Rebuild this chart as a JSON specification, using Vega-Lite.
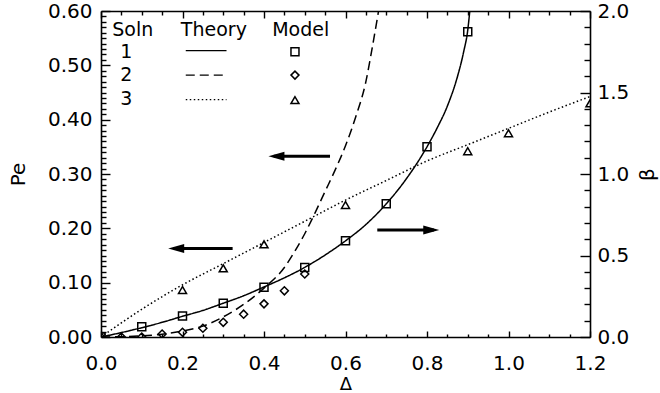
{
  "$schema": "https://vega.github.io/schema/vega-lite/v6.json",
  "width": 489,
  "height": 326,
  "autosize": {"type": "none"},
  "padding": {"left": 101, "top": 11, "right": 70, "bottom": 56},
  "background": "white",
  "config": {
    "view": {"stroke": null},
    "font": "DejaVu Sans",
    "text": {"font": "DejaVu Sans"},
    "axis": {
      "domainColor": "black", "domainWidth": 1.6,
      "tickColor": "black", "tickWidth": 1.4,
      "labelColor": "black", "titleColor": "black",
      "labelFont": "DejaVu Sans", "titleFont": "DejaVu Sans",
      "labelFontSize": 20, "titleFontSize": 20, "titleFontWeight": "normal",
      "grid": false, "labelOverlap": false, "labelFlush": false, "labelBound": false
    }
  },
  "datasets": {
    "theory": [
      {"soln": "1", "d": 0, "beta": 0}, {"soln": "1", "d": 0.05, "beta": 0.027}, {"soln": "1", "d": 0.1, "beta": 0.057},
      {"soln": "1", "d": 0.15, "beta": 0.09}, {"soln": "1", "d": 0.2, "beta": 0.127}, {"soln": "1", "d": 0.25, "beta": 0.163},
      {"soln": "1", "d": 0.3, "beta": 0.207}, {"soln": "1", "d": 0.35, "beta": 0.253}, {"soln": "1", "d": 0.4, "beta": 0.307},
      {"soln": "1", "d": 0.45, "beta": 0.363}, {"soln": "1", "d": 0.5, "beta": 0.427}, {"soln": "1", "d": 0.55, "beta": 0.503},
      {"soln": "1", "d": 0.6, "beta": 0.59}, {"soln": "1", "d": 0.65, "beta": 0.69}, {"soln": "1", "d": 0.7, "beta": 0.817},
      {"soln": "1", "d": 0.75, "beta": 0.973}, {"soln": "1", "d": 0.8, "beta": 1.167}, {"soln": "1", "d": 0.825, "beta": 1.283},
      {"soln": "1", "d": 0.85, "beta": 1.417}, {"soln": "1", "d": 0.875, "beta": 1.6}, {"soln": "1", "d": 0.89, "beta": 1.75},
      {"soln": "1", "d": 0.9, "beta": 1.883}, {"soln": "1", "d": 0.905, "beta": 2.0}, {"soln": "1", "d": 0.912, "beta": 2.2},
      {"soln": "2", "d": 0, "pe": 0}, {"soln": "2", "d": 0.05, "pe": 0.0005}, {"soln": "2", "d": 0.1, "pe": 0.002},
      {"soln": "2", "d": 0.15, "pe": 0.005}, {"soln": "2", "d": 0.2, "pe": 0.011}, {"soln": "2", "d": 0.25, "pe": 0.02},
      {"soln": "2", "d": 0.3, "pe": 0.037}, {"soln": "2", "d": 0.35, "pe": 0.06}, {"soln": "2", "d": 0.4, "pe": 0.09},
      {"soln": "2", "d": 0.45, "pe": 0.128}, {"soln": "2", "d": 0.475, "pe": 0.157}, {"soln": "2", "d": 0.5, "pe": 0.19},
      {"soln": "2", "d": 0.525, "pe": 0.228}, {"soln": "2", "d": 0.55, "pe": 0.268}, {"soln": "2", "d": 0.575, "pe": 0.308},
      {"soln": "2", "d": 0.6, "pe": 0.352}, {"soln": "2", "d": 0.625, "pe": 0.405}, {"soln": "2", "d": 0.65, "pe": 0.47},
      {"soln": "2", "d": 0.665, "pe": 0.53}, {"soln": "2", "d": 0.68, "pe": 0.595}, {"soln": "2", "d": 0.69, "pe": 0.64},
      {"soln": "3", "d": 0, "pe": 0}, {"soln": "3", "d": 0.1, "pe": 0.051}, {"soln": "3", "d": 0.2, "pe": 0.096},
      {"soln": "3", "d": 0.3, "pe": 0.135}, {"soln": "3", "d": 0.4, "pe": 0.174}, {"soln": "3", "d": 0.5, "pe": 0.213},
      {"soln": "3", "d": 0.6, "pe": 0.252}, {"soln": "3", "d": 0.7, "pe": 0.288}, {"soln": "3", "d": 0.8, "pe": 0.324},
      {"soln": "3", "d": 0.9, "pe": 0.354}, {"soln": "3", "d": 1.0, "pe": 0.384}, {"soln": "3", "d": 1.1, "pe": 0.414},
      {"soln": "3", "d": 1.2, "pe": 0.4425}
    ],
    "model": [
      {"soln": "1", "d": 0, "beta": 0}, {"soln": "1", "d": 0.1, "beta": 0.063}, {"soln": "1", "d": 0.2, "beta": 0.129},
      {"soln": "1", "d": 0.3, "beta": 0.207}, {"soln": "1", "d": 0.4, "beta": 0.305}, {"soln": "1", "d": 0.5, "beta": 0.427},
      {"soln": "1", "d": 0.6, "beta": 0.59}, {"soln": "1", "d": 0.7, "beta": 0.817}, {"soln": "1", "d": 0.8, "beta": 1.167},
      {"soln": "1", "d": 0.9, "beta": 1.873},
      {"soln": "2", "d": 0, "pe": 0}, {"soln": "2", "d": 0.05, "pe": 0}, {"soln": "2", "d": 0.1, "pe": 0},
      {"soln": "2", "d": 0.15, "pe": 0.0055}, {"soln": "2", "d": 0.2, "pe": 0.0087}, {"soln": "2", "d": 0.25, "pe": 0.016},
      {"soln": "2", "d": 0.3, "pe": 0.027}, {"soln": "2", "d": 0.35, "pe": 0.042}, {"soln": "2", "d": 0.4, "pe": 0.061},
      {"soln": "2", "d": 0.45, "pe": 0.085}, {"soln": "2", "d": 0.5, "pe": 0.116},
      {"soln": "3", "d": 0.2, "pe": 0.0865}, {"soln": "3", "d": 0.3, "pe": 0.1264}, {"soln": "3", "d": 0.4, "pe": 0.1706},
      {"soln": "3", "d": 0.6, "pe": 0.243}, {"soln": "3", "d": 0.9, "pe": 0.342}, {"soln": "3", "d": 1.0, "pe": 0.375},
      {"soln": "3", "d": 1.2, "pe": 0.43}
    ],
    "arrows": [
      {"arrow": "A", "part": "tail", "dir": "left", "d": 0.562, "pe": 0.3326},
      {"arrow": "A", "part": "head", "dir": "left", "d": 0.424, "pe": 0.3326},
      {"arrow": "B", "part": "tail", "dir": "left", "d": 0.323, "pe": 0.163},
      {"arrow": "B", "part": "head", "dir": "left", "d": 0.178, "pe": 0.163},
      {"arrow": "C", "part": "tail", "dir": "right", "d": 0.678, "pe": 0.197},
      {"arrow": "C", "part": "head", "dir": "right", "d": 0.817, "pe": 0.197}
    ],
    "keyText": [
      {"label": "Soln", "d": 0.078, "pe": 0.565},
      {"label": "Theory", "d": 0.277, "pe": 0.565},
      {"label": "Model", "d": 0.49, "pe": 0.565},
      {"label": "1", "d": 0.062, "pe": 0.524},
      {"label": "2", "d": 0.062, "pe": 0.482},
      {"label": "3", "d": 0.062, "pe": 0.438}
    ],
    "keyLines": [
      {"soln": "1", "d": 0.208, "d2": 0.308, "pe": 0.527},
      {"soln": "2", "d": 0.208, "d2": 0.308, "pe": 0.482},
      {"soln": "3", "d": 0.208, "d2": 0.308, "pe": 0.437}
    ],
    "keyMarks": [
      {"soln": "1", "d": 0.476, "pe": 0.525},
      {"soln": "2", "d": 0.476, "pe": 0.482},
      {"soln": "3", "d": 0.476, "pe": 0.436}
    ]
  },
  "layer": [
    {
      "encoding": {
        "x": {
          "field": "d", "type": "quantitative",
          "scale": {"domain": [0, 1.2], "nice": false, "zero": false},
          "axis": {
            "orient": "bottom", "title": "Δ",
            "values": [0,0.05,0.1,0.15,0.2,0.25,0.3,0.35,0.4,0.45,0.5,0.55,0.6,0.65,0.7,0.75,0.8,0.85,0.9,0.95,1,1.05,1.1,1.15,1.2],
            "labelExpr": "abs(datum.value*5-round(datum.value*5))<1e-6 ? format(datum.value,'.1f') : ''",
            "tickSize": {"condition": {"test": "abs(datum.value*5-round(datum.value*5))<1e-6", "value": -6}, "value": -3},
            "labelPadding": 22,
            "titleFontSize": 18,
            "titlePadding": -1
          }
        },
        "y": {
          "field": "pe", "type": "quantitative",
          "scale": {"domain": [0, 0.6], "nice": false, "zero": false},
          "axis": {
            "orient": "left", "title": "Pe",
            "values": [0,0.01,0.02,0.03,0.04,0.05,0.06,0.07,0.08,0.09,0.1,0.11,0.12,0.13,0.14,0.15,0.16,0.17,0.18,0.19,0.2,0.21,0.22,0.23,0.24,0.25,0.26,0.27,0.28,0.29,0.3,0.31,0.32,0.33,0.34,0.35,0.36,0.37,0.38,0.39,0.4,0.41,0.42,0.43,0.44,0.45,0.46,0.47,0.48,0.49,0.5,0.51,0.52,0.53,0.54,0.55,0.56,0.57,0.58,0.59,0.6],
            "labelExpr": "abs(datum.value*10-round(datum.value*10))<1e-6 ? format(datum.value,'.2f') : ''",
            "tickSize": {"condition": {"test": "abs(datum.value*10-round(datum.value*10))<1e-6", "value": -9}, "value": -5},
            "labelPadding": 18,
            "titlePadding": 19
          }
        }
      },
      "layer": [
        {
          "data": {"name": "theory"},
          "transform": [{"filter": "datum.soln != '1'"}],
          "mark": {"type": "line", "color": "black", "strokeWidth": 1.5, "interpolate": "monotone", "clip": true},
          "encoding": {
            "strokeDash": {"field": "soln", "type": "nominal", "scale": {"domain": ["1", "2", "3"], "range": [[1, 0], [9, 5], [1.5, 2.5]]}, "legend": null}
          }
        },
        {
          "data": {"name": "model"},
          "transform": [{"filter": "datum.soln != '1'"}],
          "mark": {"type": "point", "filled": false, "color": "black", "strokeWidth": 1.5, "size": 64, "clip": true, "opacity": 1},
          "encoding": {
            "shape": {"field": "soln", "type": "nominal", "scale": {"domain": ["1", "2", "3"], "range": ["square", "diamond", "triangle-up"]}, "legend": null}
          }
        },
        {
          "data": {"name": "arrows"},
          "mark": {"type": "line", "color": "black", "strokeWidth": 3},
          "encoding": {"detail": {"field": "arrow"}}
        },
        {
          "data": {"name": "arrows"},
          "transform": [{"filter": "datum.part == 'head' && datum.dir == 'left'"}],
          "mark": {"type": "point", "filled": true, "color": "black", "opacity": 1, "strokeWidth": 0, "size": 256, "shape": "M-0.667,0L1.333,-0.5625L1.333,0.5625Z"},
          "encoding": {}
        },
        {
          "data": {"name": "arrows"},
          "transform": [{"filter": "datum.part == 'head' && datum.dir == 'right'"}],
          "mark": {"type": "point", "filled": true, "color": "black", "opacity": 1, "strokeWidth": 0, "size": 256, "shape": "M0.667,0L-1.333,-0.5625L-1.333,0.5625Z"},
          "encoding": {}
        },
        {
          "data": {"name": "keyText"},
          "mark": {"type": "text", "fontSize": 19, "color": "black", "align": "center", "baseline": "middle", "font": "DejaVu Sans"},
          "encoding": {"text": {"field": "label"}}
        },
        {
          "data": {"name": "keyLines"},
          "mark": {"type": "rule", "color": "black", "strokeWidth": 1.3},
          "encoding": {
            "x2": {"field": "d2"},
            "strokeDash": {"field": "soln", "type": "nominal", "scale": {"domain": ["1", "2", "3"], "range": [[1, 0], [9, 5], [1.5, 2.5]]}, "legend": null}
          }
        },
        {
          "data": {"name": "keyMarks"},
          "mark": {"type": "point", "filled": false, "color": "black", "strokeWidth": 1.5, "size": 64, "opacity": 1},
          "encoding": {
            "shape": {"field": "soln", "type": "nominal", "scale": {"domain": ["1", "2", "3"], "range": ["square", "diamond", "triangle-up"]}, "legend": null}
          }
        }
      ]
    },
    {
      "encoding": {
        "x": {
          "field": "d", "type": "quantitative",
          "scale": {"domain": [0, 1.2], "nice": false, "zero": false},
          "axis": {
            "orient": "top", "title": null, "labels": false,
            "values": [0,0.05,0.1,0.15,0.2,0.25,0.3,0.35,0.4,0.45,0.5,0.55,0.6,0.65,0.7,0.75,0.8,0.85,0.9,0.95,1,1.05,1.1,1.15,1.2],
            "tickSize": {"condition": {"test": "abs(datum.value*5-round(datum.value*5))<1e-6", "value": -7}, "value": -4}
          }
        },
        "y": {
          "field": "beta", "type": "quantitative",
          "scale": {"domain": [0, 2], "nice": false, "zero": false},
          "axis": {
            "orient": "right", "title": "β", "titleAngle": 270,
            "values": [0,0.1,0.2,0.3,0.4,0.5,0.6,0.7,0.8,0.9,1,1.1,1.2,1.3,1.4,1.5,1.6,1.7,1.8,1.9,2],
            "labelExpr": "abs(datum.value*2-round(datum.value*2))<1e-6 ? format(datum.value,'.1f') : ''",
            "tickSize": {"condition": {"test": "abs(datum.value*2-round(datum.value*2))<1e-6", "value": -10}, "value": -6},
            "labelPadding": 17,
            "titlePadding": 29
          }
        }
      },
      "layer": [
        {
          "data": {"name": "theory"},
          "transform": [{"filter": "datum.soln == '1'"}],
          "mark": {"type": "line", "color": "black", "strokeWidth": 1.5, "interpolate": "monotone", "clip": true},
          "encoding": {
            "strokeDash": {"field": "soln", "type": "nominal", "scale": {"domain": ["1", "2", "3"], "range": [[1, 0], [9, 5], [1.5, 2.5]]}, "legend": null}
          }
        },
        {
          "data": {"name": "model"},
          "transform": [{"filter": "datum.soln == '1'"}],
          "mark": {"type": "point", "filled": false, "color": "black", "strokeWidth": 1.5, "size": 64, "clip": true, "opacity": 1},
          "encoding": {
            "shape": {"field": "soln", "type": "nominal", "scale": {"domain": ["1", "2", "3"], "range": ["square", "diamond", "triangle-up"]}, "legend": null}
          }
        }
      ]
    }
  ],
  "resolve": {"scale": {"y": "independent"}, "axis": {"x": "independent"}}
}
